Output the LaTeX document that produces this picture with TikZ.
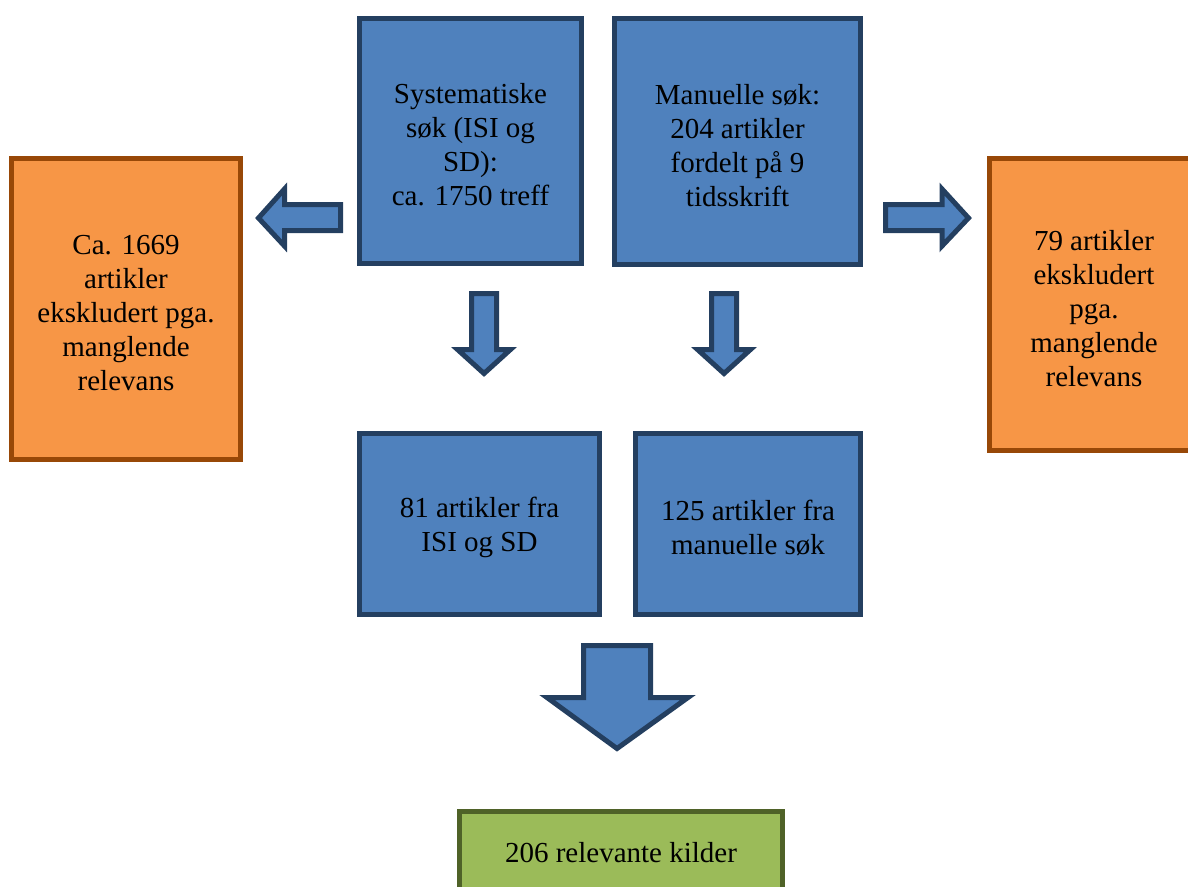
\documentclass[tikz,border=0pt]{standalone}
\usepackage{fontspec}
\setmainfont{Liberation Serif}
\definecolor{bfill}{HTML}{4F81BD}
\definecolor{bline}{HTML}{243F60}
\definecolor{ofill}{HTML}{F79646}
\definecolor{oline}{HTML}{984807}
\definecolor{gfill}{HTML}{9BBB59}
\definecolor{gline}{HTML}{4F6228}
\newcommand{\topstrut}{\rule{0pt}{21pt}}
\tikzset{
  box/.style={rectangle, line width=3.75pt, inner sep=0pt, outer sep=0pt, align=center,
    font=\fontsize{21.75}{25.5}\selectfont},
  bluebox/.style={box, fill=bfill, draw=bline},
  orangebox/.style={box, fill=ofill, draw=oline},
  greenbox/.style={box, fill=gfill, draw=gline},
  blockarrow/.style={fill=bfill, draw=bline, line width=3.75pt, line join=miter},
}
\begin{document}
\begin{tikzpicture}[x=0.75pt, y=-0.75pt]
\useasboundingbox (0,0) rectangle (1188,886);
% nodes
\node[bluebox, minimum width=166.5pt, minimum height=183.75pt] (sys) at (470.5,141)
  {\topstrut Systematiske\\søk (ISI og\\SD):\\ca. 1750 treff};
\node[bluebox, minimum width=184.5pt, minimum height=184.5pt] (man) at (737.5,141.5)
  {\topstrut Manuelle søk:\\204 artikler\\fordelt på 9\\tidsskrift};
\node[bluebox, minimum width=180pt, minimum height=135.75pt] (isi) at (479.5,524)
  {\topstrut 81 artikler fra\\ISI og SD};
\node[bluebox, minimum width=168.75pt, minimum height=135.75pt] (manres) at (748,524)
  {\topstrut 125 artikler fra\\manuelle søk};
\node[orangebox, minimum width=171.75pt, minimum height=225.75pt] (exl) at (126,309)
  {\topstrut Ca. 1669\\artikler\\ekskludert pga.\\manglende\\relevans};
\node[orangebox, minimum width=156.75pt, minimum height=219pt] (exr) at (1094,304.5)
  {\topstrut 79 artikler\\ekskludert\\pga.\\manglende\\relevans};
\node[greenbox, minimum width=242.25pt, minimum height=62.25pt] (res) at (621,853)
  {206 relevante kilder};
% block arrows
\draw[blockarrow] (258.5,218) -- (284.5,189) -- (284.5,204.5) -- (340.5,204.5)
  -- (340.5,230.5) -- (284.5,230.5) -- (284.5,246) -- cycle;
\draw[blockarrow] (968.5,218) -- (942,189) -- (942,204.5) -- (885.5,204.5)
  -- (885.5,230.5) -- (942,230.5) -- (942,246) -- cycle;
\draw[blockarrow] (484,373.5) -- (457.5,349.5) -- (471.5,349.5) -- (471.5,293.5)
  -- (496.5,293.5) -- (496.5,349.5) -- (510.5,349.5) -- cycle;
\draw[blockarrow] (724,373.5) -- (697.5,349.5) -- (711.5,349.5) -- (711.5,293.5)
  -- (736.5,293.5) -- (736.5,349.5) -- (750.5,349.5) -- cycle;
\draw[blockarrow] (617,748.5) -- (547,697.5) -- (583.5,697.5) -- (583.5,645.5)
  -- (650.5,645.5) -- (650.5,697.5) -- (688,697.5) -- cycle;
\end{tikzpicture}
\end{document}
